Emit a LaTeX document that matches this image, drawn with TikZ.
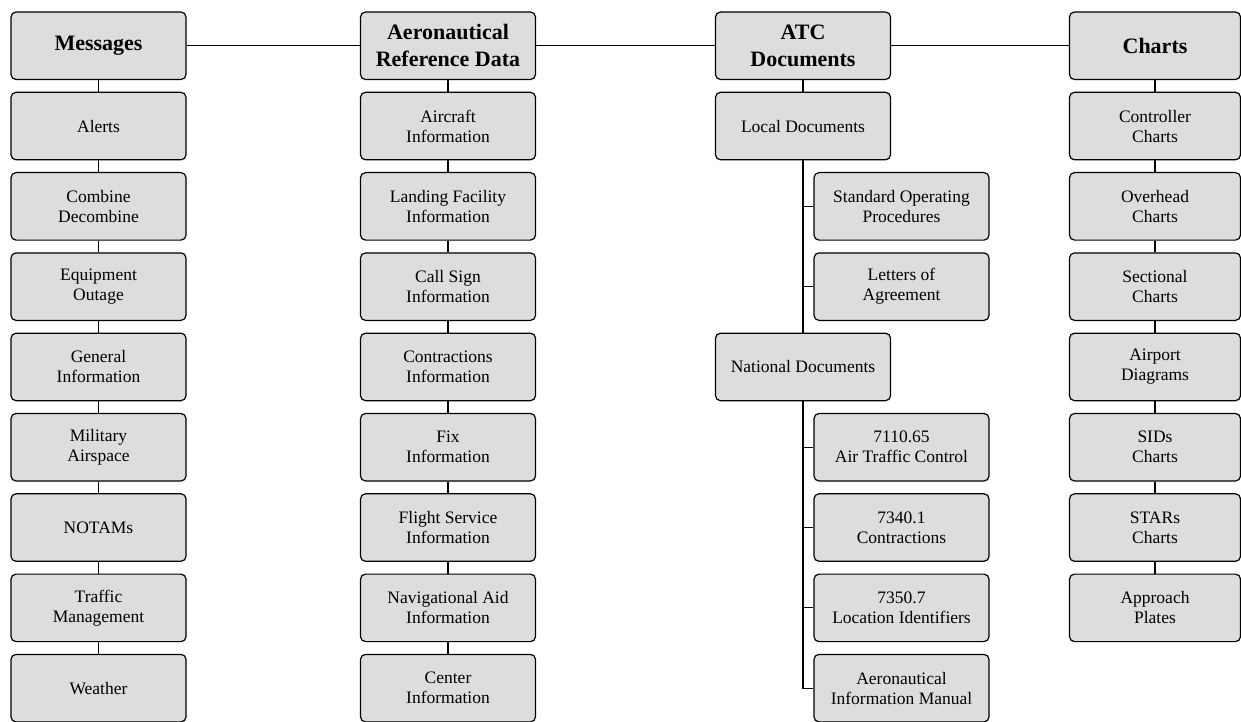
\documentclass[tikz,border=0pt]{standalone}
\usepackage{fontspec}
\setmainfont{Liberation Serif}
\definecolor{boxgray}{RGB}{221,221,221}
\begin{document}
\begin{tikzpicture}[x=1pt,y=-1pt,
  box/.style={draw=black, line width=1.2pt, rounded corners=5pt, fill=boxgray,
    minimum width=175pt, minimum height=67.5pt, align=center, inner sep=0pt,
    font=\fontsize{17.5}{20}\selectfont},
  head/.style={box, font=\fontsize{22}{27}\selectfont\bfseries},
  narrow/.style={minimum width=171pt},
  link/.style={line width=1.2pt}]
\useasboundingbox (0,0) rectangle (1241,722);

% Column 1: Messages
\node[head] (msg) at (98.5,45.75) {Messages};
\node[box] (alerts) at (98.5,126.05) {Alerts};
\node[box] (comb) at (98.5,206.35) {Combine\\Decombine};
\node[box] (equip) at (98.5,286.65) {Equipment\\Outage};
\node[box] (gen) at (98.5,366.95) {General\\Information};
\node[box] (mil) at (98.5,447.25) {Military\\Airspace};
\node[box] (notam) at (98.5,527.55) {NOTAMs};
\node[box] (tfm) at (98.5,607.85) {Traffic\\Management};
\node[box] (wx) at (98.5,688.15) {Weather};

% Column 2: Aeronautical Reference Data
\node[head] (ard) at (448,45.75) {Aeronautical\\Reference Data};
\node[box] (acft) at (448,126.05) {Aircraft\\Information};
\node[box] (land) at (448,206.35) {Landing Facility\\Information};
\node[box] (call) at (448,286.65) {Call Sign\\Information};
\node[box] (contr) at (448,366.95) {Contractions\\Information};
\node[box] (fix) at (448,447.25) {Fix\\Information};
\node[box] (fss) at (448,527.55) {Flight Service\\Information};
\node[box] (nav) at (448,607.85) {Navigational Aid\\Information};
\node[box] (ctr) at (448,688.15) {Center\\Information};

% Column 3: ATC Documents
\node[head] (atc) at (803,45.75) {ATC\\Documents};
\node[box] (loc) at (803,126.05) {Local Documents};
\node[box] (sop) at (901.5,206.35) {Standard Operating\\Procedures};
\node[box] (loa) at (901.5,286.65) {Letters of\\Agreement};
\node[box] (nat) at (803,366.95) {National Documents};
\node[box] (atcm) at (901.5,447.25) {7110.65\\Air Traffic Control};
\node[box] (cont) at (901.5,527.55) {7340.1\\Contractions};
\node[box] (locid) at (901.5,607.85) {7350.7\\Location Identifiers};
\node[box] (aim) at (901.5,688.15) {Aeronautical\\Information Manual};

% Column 4: Charts
\node[head,narrow] (charts) at (1155,45.75) {Charts};
\node[box,narrow] (ctlc) at (1155,126.05) {Controller\\Charts};
\node[box,narrow] (ovh) at (1155,206.35) {Overhead\\Charts};
\node[box,narrow] (sec) at (1155,286.65) {Sectional\\Charts};
\node[box,narrow] (apd) at (1155,366.95) {Airport\\Diagrams};
\node[box,narrow] (sid) at (1155,447.25) {SIDs\\Charts};
\node[box,narrow] (star) at (1155,527.55) {STARs\\Charts};
\node[box,narrow] (appr) at (1155,607.85) {Approach\\Plates};

% Header links
\draw[link] (msg.east) -- (ard.west);
\draw[link] (ard.east) -- (atc.west);
\draw[link] (atc.east) -- (charts.west);

% Column chains
\draw[link] (msg) -- (alerts) (alerts) -- (comb) (comb) -- (equip) (equip) -- (gen)
  (gen) -- (mil) (mil) -- (notam) (notam) -- (tfm) (tfm) -- (wx);
\draw[link] (ard) -- (acft) (acft) -- (land) (land) -- (call) (call) -- (contr)
  (contr) -- (fix) (fix) -- (fss) (fss) -- (nav) (nav) -- (ctr);
\draw[link] (charts) -- (ctlc) (ctlc) -- (ovh) (ovh) -- (sec) (sec) -- (apd)
  (apd) -- (sid) (sid) -- (star) (star) -- (appr);

% ATC tree
\draw[link] (atc) -- (loc);
\draw[link] (loc.south) -- (nat.north);
\draw[link] (loc.south) |- (sop.west);
\draw[link] (loc.south) |- (loa.west);
\draw[link] (nat.south) |- (atcm.west);
\draw[link] (nat.south) |- (cont.west);
\draw[link] (nat.south) |- (locid.west);
\draw[link] (nat.south) |- (aim.west);
\end{tikzpicture}
\end{document}
